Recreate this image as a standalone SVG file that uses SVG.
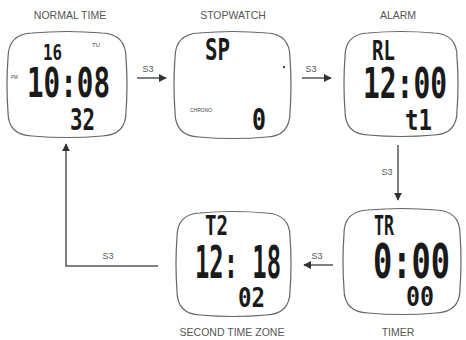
<svg xmlns="http://www.w3.org/2000/svg" width="466" height="340" viewBox="0 0 466 340">
<style>
.lbl{font-family:"Liberation Sans",Arial,sans-serif;font-size:10.5px;fill:#555;text-anchor:middle}
.s3{font-family:"Liberation Sans",Arial,sans-serif;font-size:9px;fill:#555;text-anchor:middle}
.lcd{font-family:"DejaVu Sans Mono",monospace;font-weight:bold;fill:#1a1a1a}
.tiny{font-family:"Liberation Sans",Arial,sans-serif;fill:#444}
.case{fill:#fff;stroke:#666;stroke-width:1.2}
.conn{fill:none;stroke:#555;stroke-width:1.5}
</style>
<defs>
<marker id="ah" viewBox="0 0 10 10" refX="9" refY="5" markerWidth="8" markerHeight="8" markerUnits="userSpaceOnUse" orient="auto">
<path d="M0,0 L10,5 L0,10 z" fill="#333"/>
</marker>
</defs>
<rect width="466" height="340" fill="#fff"/>
<g id="connectors">
<line class="conn" x1="137" y1="78" x2="166" y2="78" marker-end="url(#ah)"/>
<text class="s3" x="148" y="72">S3</text>
<line class="conn" x1="302" y1="78" x2="331" y2="78" marker-end="url(#ah)"/>
<text class="s3" x="311" y="72">S3</text>
<line class="conn" x1="398" y1="145" x2="398" y2="200" marker-end="url(#ah)"/>
<text class="s3" x="387" y="175">S3</text>
<line class="conn" x1="333" y1="265" x2="304" y2="265" marker-end="url(#ah)"/>
<text class="s3" x="317" y="259">S3</text>
<polyline class="conn" points="158,266 66,266 66,144" marker-end="url(#ah)"/>
<text class="s3" x="108" y="259">S3</text>
</g>
<g id="normal-time">
<text class="lbl" x="70" y="19">NORMAL TIME</text>
<path class="case" d="M32,33 Q67,30 102,33 Q126,34 126,58 Q128,85 126,112 Q126,135 102,136 Q67,139 32,136 Q8,135 8,112 Q6,85 8,58 Q8,34 32,33 Z"/>
<text class="lcd" transform="translate(43,60) scale(1,1.35)" font-size="15.5" textLength="19" lengthAdjust="spacingAndGlyphs">16</text>
<text class="tiny" x="92" y="47" font-size="6">TU</text>
<text class="tiny" x="11" y="79" font-size="4.5">PM</text>
<text class="lcd" transform="translate(27,97) scale(1,1.35)" font-size="30.5" textLength="83" lengthAdjust="spacingAndGlyphs">10:08</text>
<text class="lcd" transform="translate(70,130) scale(1,1.35)" font-size="22.5" textLength="25" lengthAdjust="spacingAndGlyphs">32</text>
</g>
<g id="stopwatch">
<text class="lbl" x="233" y="19">STOPWATCH</text>
<path class="case" d="M199,33 Q233,30 267,33 Q290,34 290,58 Q292,85 290,112 Q290,136 267,137 Q233,140 199,137 Q175,136 175,112 Q173,85 175,58 Q175,34 199,33 Z"/>
<text class="lcd" transform="translate(205,60) scale(1,1.35)" font-size="22" textLength="25" lengthAdjust="spacingAndGlyphs">SP</text>
<circle cx="284" cy="67" r="1.2" fill="#444"/>
<text class="tiny" x="190" y="112" font-size="5">CHRONO</text>
<text class="lcd" transform="translate(252,130) scale(1,1.35)" font-size="22.5" textLength="14" lengthAdjust="spacingAndGlyphs">0</text>
</g>
<g id="alarm">
<text class="lbl" x="398" y="19">ALARM</text>
<path class="case" d="M368,33 Q401,30 434,33 Q457,34 457,57 Q459,84 457,111 Q457,134 434,135 Q401,138 368,135 Q345,134 345,111 Q343,84 345,57 Q345,34 368,33 Z"/>
<text class="lcd" transform="translate(372,60) scale(1,1.35)" font-size="20" textLength="23" lengthAdjust="spacingAndGlyphs">RL</text>
<text class="lcd" transform="translate(363,98) scale(1,1.35)" font-size="31" textLength="84" lengthAdjust="spacingAndGlyphs">12:00</text>
<text class="lcd" transform="translate(405,130) scale(1,1.35)" font-size="20.5" textLength="27" lengthAdjust="spacingAndGlyphs">t1</text>
</g>
<g id="timer">
<text class="lbl" x="398" y="336">TIMER</text>
<path class="case" d="M368,210 Q402,207 436,210 Q460,211 460,234 Q462,261 460,289 Q460,312 436,313 Q402,316 368,313 Q344,312 344,289 Q342,261 344,234 Q344,211 368,210 Z"/>
<text class="lcd" transform="translate(374,235) scale(1,1.35)" font-size="20" textLength="20" lengthAdjust="spacingAndGlyphs">TR</text>
<text class="lcd" transform="translate(373,278) scale(1,1.35)" font-size="35.5" textLength="77" lengthAdjust="spacingAndGlyphs">0:00</text>
<text class="lcd" transform="translate(406,306) scale(1,1.35)" font-size="19.5" textLength="28" lengthAdjust="spacingAndGlyphs">00</text>
</g>
<g id="second-time-zone">
<text class="lbl" x="232" y="336">SECOND TIME ZONE</text>
<path class="case" d="M200,213 Q233,210 266,213 Q290,214 290,237 Q292,264 290,291 Q290,314 266,315 Q233,318 200,315 Q177,314 177,291 Q175,264 177,237 Q177,214 200,213 Z"/>
<text class="lcd" transform="translate(205,235) scale(1,1.35)" font-size="20" textLength="23" lengthAdjust="spacingAndGlyphs">T2</text>
<text class="lcd" transform="translate(195,278) scale(1,1.35)" font-size="33.5" textLength="86" lengthAdjust="spacingAndGlyphs">12: 18</text>
<text class="lcd" transform="translate(238,307) scale(1,1.35)" font-size="20" textLength="27" lengthAdjust="spacingAndGlyphs">02</text>
</g>
</svg>
